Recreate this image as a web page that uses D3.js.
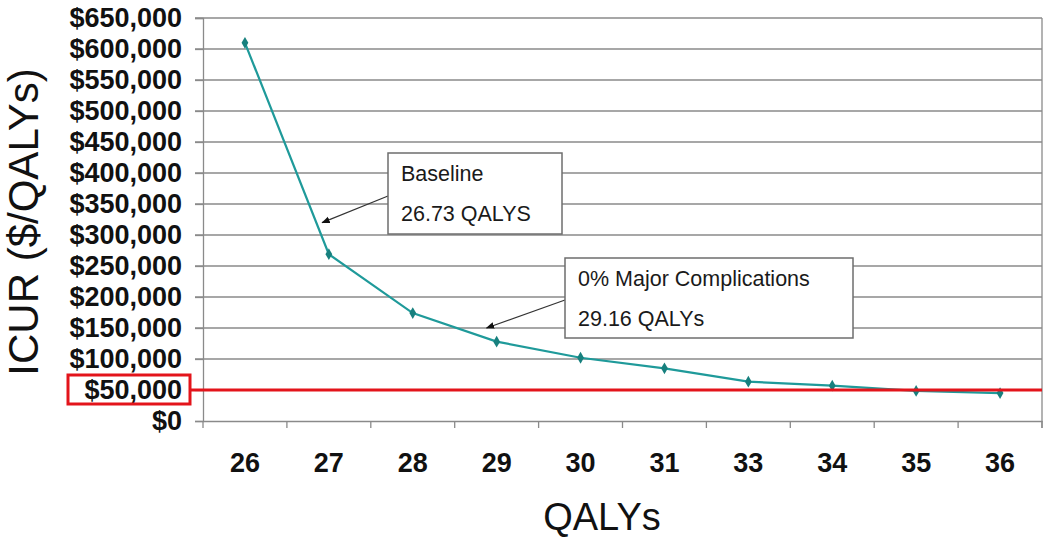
<!DOCTYPE html>
<html lang="en">
<head>
    <meta charset="UTF-8">
    <title>ICUR vs QALYs</title>
    <style>
        body { margin: 0; background: #ffffff; }
        svg { display: block; font-family: "Liberation Sans", Arial, sans-serif; }
        .grid line { stroke: #8a8a8a; stroke-width: 1.3px; }
        .tick-label { font-weight: bold; font-size: 27px; fill: #111; }
        .title { font-size: 42px; fill: #111; }
        .note-box { fill: #ffffff; stroke: #6e6e6e; stroke-width: 1.5px; }
        .note-text { font-size: 21.5px; fill: #1a1a1a; }
    </style>
</head>
<body>
    <script src="https://d3js.org/d3.v7.min.js"></script>
    <script>
        var width = 1050;
        var height = 539;

        // data
        var qalyLabels = ["26", "27", "28", "29", "30", "31", "33", "34", "35", "36"];
        var icurValues = [610000, 269000, 174000, 128000, 102000, 85000, 63500, 57000, 48500, 45000];
        var yTicks = [0, 50000, 100000, 150000, 200000, 250000, 300000, 350000, 400000,
                      450000, 500000, 550000, 600000, 650000];
        var threshold = 50000;
        var notes = [
            { lines: ["Baseline", "26.73 QALYS"], at: 0.92, value: 320000 },
            { lines: ["0% Major Complications", "29.16 QALYs"], at: 2.88, value: 150000 }
        ];

        var margin = { top: 18, right: 8, bottom: 118, left: 203 };
        var plotW = width - margin.left - margin.right;
        var plotH = height - margin.top - margin.bottom;

        var svg = d3.select('body').append('svg')
            .attr('width', width)
            .attr('height', height);

        var g = svg.append('g')
            .attr('transform', 'translate(' + margin.left + ',' + margin.top + ')');

        var x = d3.scaleBand().domain(qalyLabels).range([0, plotW]);
        var y = d3.scaleLinear().domain([0, 650000]).range([plotH, 0]);

        // position along the category axis with fractions
        function xAt(i) { return x.step() * (i + 0.5); }

        // horizontal gridlines + left tick marks
        g.append('g').attr('class', 'grid')
            .selectAll('line')
            .data(yTicks.filter(function(d) { return d > 0; }))
            .enter().append('line')
            .attr('x1', -8).attr('x2', plotW)
            .attr('y1', function(d) { return y(d); })
            .attr('y2', function(d) { return y(d); });

        // y axis
        var yAxis = g.append('g')
            .call(d3.axisLeft(y).tickValues(yTicks).tickSize(8).tickPadding(13)
                .tickFormat(function(d) { return '$' + d3.format(',')(d); }));
        yAxis.select('.domain').attr('stroke', '#8a8a8a').attr('stroke-width', 1.3);
        yAxis.selectAll('.tick line').attr('stroke', '#8a8a8a').attr('stroke-width', 1.3);
        yAxis.selectAll('.tick text').attr('class', 'tick-label').attr('fill', null)
            .style('font-family', 'inherit');

        // x axis
        var xAxis = g.append('g')
            .attr('transform', 'translate(0,' + plotH + ')')
            .call(d3.axisBottom(x).tickSize(0).tickPadding(32));
        xAxis.select('.domain').attr('stroke', '#8a8a8a').attr('stroke-width', 1.3);
        xAxis.selectAll('.tick text').attr('class', 'tick-label').attr('fill', null)
            .style('font-family', 'inherit');
        // category boundary ticks
        g.append('g').selectAll('line')
            .data(d3.range(qalyLabels.length + 1))
            .enter().append('line')
            .attr('x1', function(i) { return x.step() * i; })
            .attr('x2', function(i) { return x.step() * i; })
            .attr('y1', plotH).attr('y2', plotH + 7)
            .attr('stroke', '#8a8a8a').attr('stroke-width', 1.3);

        // right border
        g.append('line')
            .attr('x1', plotW).attr('x2', plotW)
            .attr('y1', 0).attr('y2', plotH + 7)
            .attr('stroke', '#8a8a8a').attr('stroke-width', 1.3);

        // series line
        var line = d3.line()
            .x(function(d, i) { return x(qalyLabels[i]) + x.bandwidth() / 2; })
            .y(function(d) { return y(d); });

        g.append('path')
            .datum(icurValues)
            .attr('fill', 'none')
            .attr('stroke', '#1f9a9a')
            .attr('stroke-width', 2.2)
            .attr('d', line);

        g.selectAll('.marker')
            .data(icurValues)
            .enter().append('path')
            .attr('class', 'marker')
            .attr('d', d3.symbol().type(d3.symbolDiamond).size(40))
            .attr('fill', '#17807e')
            .attr('transform', function(d, i) {
                return 'translate(' + (x(qalyLabels[i]) + x.bandwidth() / 2) + ',' + y(d) + ')';
            });

        // threshold line and highlight box
        g.append('line')
            .attr('x1', -13).attr('x2', plotW)
            .attr('y1', y(threshold)).attr('y2', y(threshold))
            .attr('stroke', '#e3141b').attr('stroke-width', 3);

        g.append('rect')
            .attr('x', -135).attr('y', y(threshold) - 15)
            .attr('width', 122).attr('height', 29)
            .attr('fill', 'none')
            .attr('stroke', '#e3141b').attr('stroke-width', 3);

        // annotations
        svg.append('defs').append('marker')
            .attr('id', 'arrow')
            .attr('viewBox', '0 0 10 10')
            .attr('refX', 9).attr('refY', 5)
            .attr('markerWidth', 7).attr('markerHeight', 7)
            .attr('orient', 'auto')
            .append('path')
            .attr('d', 'M0,1 L10,5 L0,9 z')
            .attr('fill', '#111');

        var boxes = [
            { x: 185, y: 135, w: 174, h: 81, arrowFrom: [185, 178] },
            { x: 362, y: 240, w: 288, h: 80, arrowFrom: [362, 282] }
        ];

        notes.forEach(function(n, k) {
            var b = boxes[k];
            var tx = xAt(n.at), ty = y(n.value);
            g.append('line')
                .attr('x1', b.arrowFrom[0]).attr('y1', b.arrowFrom[1])
                .attr('x2', tx).attr('y2', ty)
                .attr('stroke', '#333').attr('stroke-width', 1.2)
                .attr('marker-end', 'url(#arrow)');
            g.append('rect').attr('class', 'note-box')
                .attr('x', b.x).attr('y', b.y).attr('width', b.w).attr('height', b.h);
            n.lines.forEach(function(t, j) {
                g.append('text').attr('class', 'note-text')
                    .attr('x', b.x + 13)
                    .attr('y', b.y + 28 + j * 40)
                    .text(t);
            });
        });

        // axis titles
        svg.append('text').attr('class', 'title')
            .attr('text-anchor', 'middle')
            .attr('transform', 'translate(38,222) rotate(-90)')
            .text('ICUR ($/QALYs)');

        svg.append('text').attr('class', 'title')
            .attr('text-anchor', 'middle')
            .attr('x', 602).attr('y', 530)
            .style('font-size', '38px')
            .text('QALYs');
    </script>
</body>
</html>
